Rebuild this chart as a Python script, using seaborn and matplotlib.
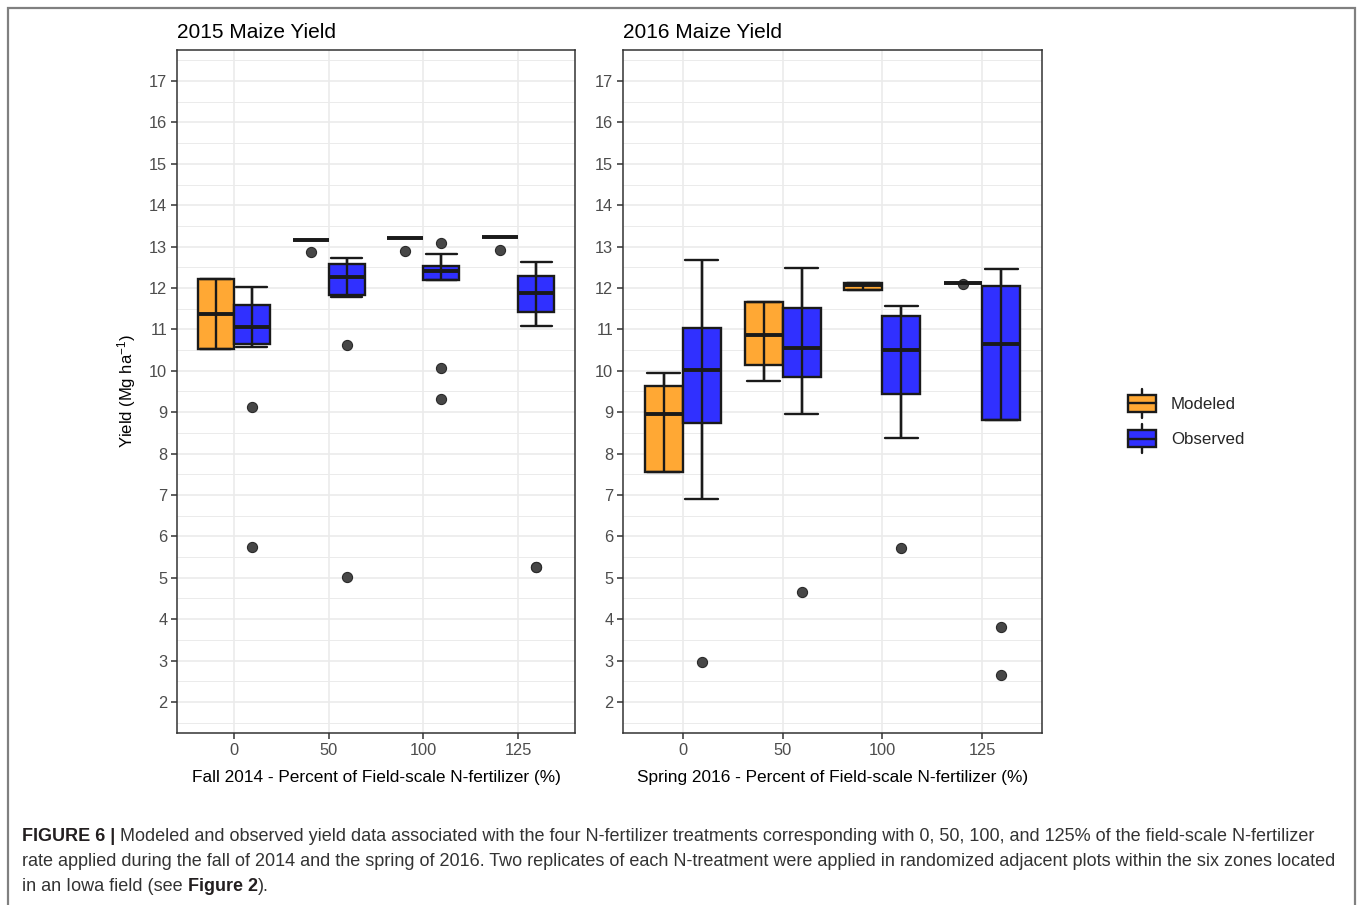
import matplotlib
matplotlib.use("Agg")
import matplotlib.pyplot as plt
from matplotlib.legend_handler import HandlerBase
from matplotlib.lines import Line2D
from matplotlib.patches import Rectangle, Patch
from matplotlib.ticker import MultipleLocator
import pandas as pd
import seaborn as sns

# N-rate categories and sources
rates = ["0", "50", "100", "125"]
sources = ["Modeled", "Observed"]
colors = {"Modeled": "#FFA834", "Observed": "#3030FF"}

# yield values (Mg/ha) per N-rate
yield_2015_modeled = [
    [10.53, 10.53, 11.37, 12.22, 12.22],
    [12.87, 13.16, 13.16, 13.16, 13.16],
    [12.90, 13.20, 13.20, 13.20, 13.20],
    [12.91, 13.23, 13.23, 13.23, 13.23],
]
yield_2015_observed = [
    [5.74, 9.12, 10.58, 10.65, 10.65, 11.07, 11.07, 11.07, 11.60, 11.60, 11.60, 12.02, 12.02],
    [5.01, 10.63, 11.78, 11.84, 11.84, 12.26, 12.26, 12.26, 12.58, 12.58, 12.58, 12.73, 12.73],
    [9.31, 10.07, 12.20, 12.20, 12.20, 12.40, 12.40, 12.40, 12.54, 12.54, 12.54, 12.83, 13.08],
    [5.25, 5.25, 11.08, 11.42, 11.42, 11.89, 11.89, 11.89, 12.30, 12.30, 12.30, 12.62, 12.62],
]
yield_2016_modeled = [
    [7.56, 7.56, 8.95, 9.64, 9.95],
    [9.76, 10.14, 10.87, 11.66, 11.66],
    [11.95, 11.95, 12.08, 12.12, 12.12],
    [12.10, 12.13, 12.13, 12.13, 12.13],
]
yield_2016_observed = [
    [2.96, 6.90, 8.73, 8.73, 8.73, 10.03, 10.03, 10.03, 11.04, 11.04, 11.04, 12.67, 12.67],
    [4.66, 8.96, 9.84, 9.84, 9.84, 10.55, 10.55, 10.55, 11.52, 11.52, 11.52, 12.48, 12.48],
    [5.71, 8.37, 9.45, 9.45, 9.45, 10.50, 10.50, 10.50, 11.32, 11.32, 11.32, 11.57, 11.57],
    [2.64, 3.82, 8.82, 8.82, 8.82, 10.65, 10.65, 10.65, 12.06, 12.06, 12.06, 12.46, 12.46],
]

sns.set_theme(style="white")
plt.rcParams["font.family"] = ["Liberation Sans", "DejaVu Sans"]
plt.rcParams["mathtext.default"] = "regular"

W, H = 1362, 905
INK = "#1a1a1a"
LW = 1.7


def long_table(modeled, observed):
    rows = []
    for src, groups in (("Modeled", modeled), ("Observed", observed)):
        for rate, vals in zip(rates, groups):
            for v in vals:
                rows.append({"rate": rate, "source": src, "yield": v})
    return pd.DataFrame(rows)


fig = plt.figure(figsize=(W / 100, H / 100), dpi=100)
bg = fig.add_axes([0, 0, 1, 1])
bg.axis("off")
bg.set_xlim(0, 1)
bg.set_ylim(0, 1)

ax1 = fig.add_axes([177 / W, 1 - 733 / H, 398 / W, 683 / H])
ax2 = fig.add_axes([623 / W, 1 - 733 / H, 419 / W, 683 / H])


def draw_panel(ax, df, title, xlabel):
    sns.boxplot(
        data=df, x="rate", y="yield", hue="source", order=rates, hue_order=sources,
        palette=colors, width=0.76, gap=0, saturation=1, linewidth=LW, linecolor=INK,
        fliersize=7.3,
        flierprops=dict(marker="o", markerfacecolor="#474747", markeredgecolor="#2b2b2b",
                        markeredgewidth=0.8),
        medianprops=dict(linewidth=2.8, color=INK),
        legend=False, ax=ax,
    )
    # ggplot-style errorbar whiskers: wide caps and a line through the box
    for c in ax.containers:
        for i in range(len(c.boxes)):
            w_lo, w_hi = c.whiskers[2 * i], c.whiskers[2 * i + 1]
            x = w_lo.get_xdata()[0]
            for cap in (c.caps[2 * i], c.caps[2 * i + 1]):
                cap.set_xdata([x - 0.165, x + 0.165])
                cap.set_zorder(4)
            ax.plot([x, x], [w_lo.get_ydata()[1], w_hi.get_ydata()[1]],
                    color=INK, lw=LW, zorder=4, solid_capstyle="butt")

    ax.set_xlim(-0.6, 3.6)
    ax.set_ylim(1.25, 17.75)
    ax.set_yticks(range(2, 18))
    ax.yaxis.set_minor_locator(MultipleLocator(0.5))
    ax.set_axisbelow(True)
    ax.grid(True, which="major", axis="both", color="#EBEBEB", lw=1.2)
    ax.grid(True, which="minor", axis="y", color="#EBEBEB", lw=0.7)
    ax.tick_params(which="major", length=4, width=1.1, color="#333333",
                   labelcolor="#4D4D4D", labelsize=11.8, pad=3, bottom=True, left=True)
    ax.tick_params(which="minor", length=0)
    for s in ax.spines.values():
        s.set_visible(True)
        s.set_color("#333333")
        s.set_linewidth(1.1)
    ax.set_title(title, loc="left", fontsize=15, pad=9, color="black")
    ax.set_xlabel(xlabel, fontsize=12.4, labelpad=9, color="black")
    ax.set_ylabel("")


draw_panel(ax1, long_table(yield_2015_modeled, yield_2015_observed),
           "2015 Maize Yield", "Fall 2014 - Percent of Field-scale N-fertilizer (%)")
draw_panel(ax2, long_table(yield_2016_modeled, yield_2016_observed),
           "2016 Maize Yield", "Spring 2016 - Percent of Field-scale N-fertilizer (%)")
ax1.set_ylabel("Yield (Mg ha$^{-1}$)", fontsize=12, labelpad=8, color="black")


class BoxKey(HandlerBase):
    def create_artists(self, legend, orig_handle, xdescent, ydescent, width, height,
                       fontsize, trans):
        x0, y0 = -xdescent, -ydescent
        xc = x0 + width / 2
        stub = Line2D([xc, xc], [y0 - 0.35 * height, y0 + 1.35 * height],
                      color=INK, lw=LW, transform=trans)
        rect = Rectangle((x0, y0), width, height, facecolor=orig_handle.get_facecolor(),
                         edgecolor=INK, lw=LW, transform=trans)
        med = Line2D([x0, x0 + width], [y0 + height / 2] * 2, color=INK, lw=LW,
                     transform=trans)
        return [stub, rect, med]


handles = [Patch(facecolor=colors[s]) for s in sources]
fig.legend(handles, sources, handler_map={Patch: BoxKey()}, loc="center left",
           bbox_to_anchor=(1128 / W, 1 - 421 / H), frameon=False, fontsize=12.2,
           handlelength=1.63, handleheight=1.2, labelspacing=1.05, handletextpad=0.9,
           borderpad=0, borderaxespad=0)

# outer frame
bg.add_patch(Rectangle((8 / W, -0.02), (1355 - 8) / W, 1 - 8 / H + 0.02, fill=False,
                       edgecolor="#808080", lw=1.6, clip_on=False))

# caption
cap = 13.0
cx = 22 / W
t = bg.text(cx, 1 - 845 / H, "FIGURE 6 |", fontsize=cap, weight="bold", color="#231f20",
            va="bottom", ha="left")
bg.annotate(" Modeled and observed yield data associated with the four N-fertilizer "
            "treatments corresponding with 0, 50, 100, and 125% of the field-scale N-fertilizer",
            xy=(1, 0), xycoords=t, va="bottom", ha="left", fontsize=cap, color="#333333")
bg.text(cx, 1 - 870 / H, "rate applied during the fall of 2014 and the spring of 2016. Two "
        "replicates of each N-treatment were applied in randomized adjacent plots within the "
        "six zones located", fontsize=cap, color="#333333", va="bottom", ha="left")
t3 = bg.text(cx, 1 - 895 / H, "in an Iowa field (see", fontsize=cap, color="#333333",
             va="bottom", ha="left")
t4 = bg.annotate(" Figure 2", xy=(1, 0), xycoords=t3, va="bottom", ha="left",
                 fontsize=cap, weight="bold", color="#231f20")
bg.annotate(").", xy=(1, 0), xycoords=t4, va="bottom", ha="left", fontsize=cap,
            color="#333333")

fig.savefig("out.png", dpi=100)
